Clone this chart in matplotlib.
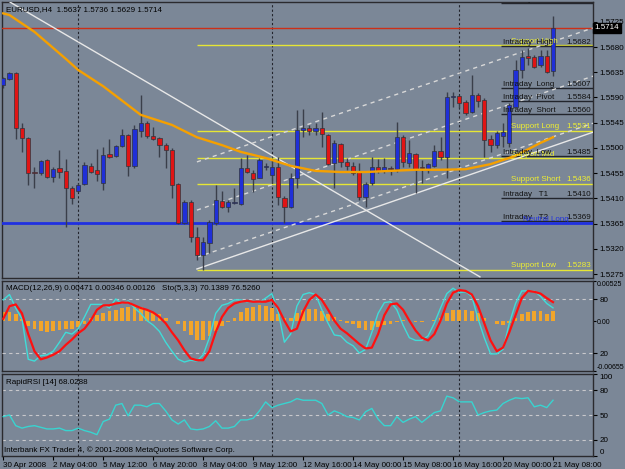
import matplotlib
matplotlib.use("Agg")
import matplotlib.pyplot as plt
import matplotlib.transforms as mtransforms
import numpy as np

# EURUSD H4 candles
opens = [1.5612, 1.5623, 1.5634, 1.5536, 1.5518, 1.5457, 1.5455, 1.5478, 1.5448, 1.5464,
         1.5459, 1.5428, 1.5423, 1.5436, 1.5468, 1.5461, 1.5437, 1.5489, 1.5486, 1.5503,
         1.5523, 1.5468, 1.5530, 1.5544, 1.5521, 1.5518, 1.5505, 1.5496, 1.5436, 1.5366,
         1.5403, 1.5341, 1.5309, 1.5330, 1.5366, 1.5405, 1.5395, 1.5402, 1.5400, 1.5464,
         1.5455, 1.5446, 1.5466, 1.5452, 1.5466, 1.5411, 1.5395, 1.5446, 1.5532, 1.5536,
         1.5530, 1.5536, 1.5523, 1.5473, 1.5507, 1.5475, 1.5468, 1.5457, 1.5412, 1.5437,
         1.5466, 1.5459, 1.5464, 1.5462, 1.5519, 1.5473, 1.5489, 1.5466, 1.5461, 1.5468,
         1.5494, 1.5484, 1.5591, 1.5593, 1.5582, 1.5564, 1.5594, 1.5585, 1.5516, 1.5505,
         1.5521, 1.5509, 1.5573, 1.5639, 1.5664, 1.5662, 1.5648, 1.5664, 1.5637]
highs = [1.5627, 1.5635, 1.5635, 1.5544, 1.5520, 1.5466, 1.5478, 1.5480, 1.5466, 1.5496,
         1.5480, 1.5432, 1.5437, 1.5475, 1.5473, 1.5498, 1.5502, 1.5516, 1.5505, 1.5534,
         1.5525, 1.5541, 1.5594, 1.5548, 1.5537, 1.5519, 1.5509, 1.5500, 1.5437, 1.5407,
         1.5407, 1.5359, 1.5341, 1.5371, 1.5434, 1.5423, 1.5407, 1.5428, 1.5482, 1.5487,
         1.5461, 1.5482, 1.5473, 1.5482, 1.5484, 1.5414, 1.5455, 1.5568, 1.5569, 1.5541,
         1.5544, 1.5564, 1.5525, 1.5514, 1.5509, 1.5482, 1.5475, 1.5473, 1.5439, 1.5484,
         1.5480, 1.5482, 1.5468, 1.5546, 1.5523, 1.5514, 1.5491, 1.5478, 1.5473, 1.5505,
         1.5519, 1.5600, 1.5600, 1.5594, 1.5585, 1.5630, 1.5598, 1.5589, 1.5523, 1.5530,
         1.5544, 1.5580, 1.5657, 1.5675, 1.5678, 1.5666, 1.5675, 1.5675, 1.5736]
lows = [1.5607, 1.5621, 1.5516, 1.5493, 1.5434, 1.5428, 1.5452, 1.5446, 1.5439, 1.5446,
        1.5359, 1.5400, 1.5421, 1.5434, 1.5455, 1.5441, 1.5425, 1.5482, 1.5484, 1.5502,
        1.5450, 1.5464, 1.5519, 1.5518, 1.5514, 1.5484, 1.5464, 1.5411, 1.5364, 1.5364,
        1.5332, 1.5300, 1.5283, 1.5312, 1.5362, 1.5393, 1.5386, 1.5400, 1.5398, 1.5455,
        1.5421, 1.5446, 1.5461, 1.5437, 1.5398, 1.5366, 1.5393, 1.5428, 1.5519, 1.5523,
        1.5523, 1.5502, 1.5470, 1.5428, 1.5466, 1.5461, 1.5452, 1.5407, 1.5395, 1.5434,
        1.5455, 1.5455, 1.5452, 1.5457, 1.5466, 1.5466, 1.5419, 1.5437, 1.5455, 1.5466,
        1.5478, 1.5446, 1.5573, 1.5571, 1.5559, 1.5562, 1.5573, 1.5484, 1.5493, 1.5500,
        1.5502, 1.5502, 1.5573, 1.5625, 1.5648, 1.5643, 1.5644, 1.5634, 1.5629]
closes = [1.5625, 1.5634, 1.5536, 1.5518, 1.5455, 1.5455, 1.5477, 1.5448, 1.5462, 1.5457,
          1.5428, 1.5411, 1.5434, 1.5470, 1.5457, 1.5453, 1.5487, 1.5484, 1.5503, 1.5523,
          1.5468, 1.5534, 1.5544, 1.5521, 1.5516, 1.5505, 1.5496, 1.5434, 1.5366, 1.5403,
          1.5341, 1.5309, 1.5332, 1.5368, 1.5407, 1.5395, 1.5403, 1.5403, 1.5464, 1.5457,
          1.5444, 1.5478, 1.5468, 1.5466, 1.5412, 1.5395, 1.5446, 1.5532, 1.5535, 1.5530,
          1.5536, 1.5525, 1.5471, 1.5509, 1.5475, 1.5468, 1.5455, 1.5412, 1.5436, 1.5466,
          1.5459, 1.5466, 1.5462, 1.5519, 1.5475, 1.5491, 1.5461, 1.5464, 1.5471, 1.5494,
          1.5484, 1.5591, 1.5593, 1.5580, 1.5562, 1.5594, 1.5584, 1.5514, 1.5505, 1.5527,
          1.5528, 1.5577, 1.5639, 1.5662, 1.5660, 1.5644, 1.5664, 1.5635, 1.5714]

# orange moving average, sampled at a few bars
ma_bars = [0, 1, 5, 10, 12, 16, 22, 27, 31, 35, 38, 42, 46, 50, 54, 58, 62, 66, 70, 74, 78, 82, 86, 88]
ma_vals = [1.5740, 1.5737, 1.5707, 1.5659, 1.5639, 1.5610, 1.5559, 1.5541, 1.5519, 1.5505,
           1.5493, 1.5482, 1.5468, 1.5459, 1.5457, 1.5457, 1.5459, 1.5461, 1.5461, 1.5462,
           1.5471, 1.5486, 1.5509, 1.5519]

# MACD histogram (OsMA) and stochastic
macd_hist = [0.00124, 0.00124, 0.00089, 0.00022, -0.00067, -0.00098, -0.00124, -0.00142, -0.00124, -0.00111,
             -0.00098, -0.00098, -0.00080, -0.00036, 0.00044, 0.00080, 0.00107, 0.00133, 0.00151, 0.00169,
             0.00178, 0.00195, 0.00178, 0.00151, 0.00124, 0.00098, 0.00044, 0.00002, -0.00044, -0.00124,
             -0.00178, -0.00244, -0.00244, -0.00200, -0.00133, -0.00067, -0.00010, 0.00044, 0.00124, 0.00169,
             0.00186, 0.00204, 0.00195, 0.00169, 0.00098, 0.00044, 0.00044, 0.00111, 0.00142, 0.00155,
             0.00155, 0.00133, 0.00098, 0.00053, 0.00010, -0.00020, -0.00044, -0.00089, -0.00115, -0.00111,
             -0.00080, -0.00053, -0.00036, -0.00010, 0.00010, 0.00002, -0.00010, -0.00010, 0.00002, 0.00010,
             0.00044, 0.00111, 0.00142, 0.00142, 0.00142, 0.00133, 0.00111, 0.00044, 0.00002, -0.00036,
             -0.00053, -0.00020, 0.00044, 0.00098, 0.00124, 0.00133, 0.00133, 0.00098, 0.00126]
sto_main = [79, 85, 70, 58, 13, 11, 17, 18, 22, 32, 43, 41, 47, 60, 74, 74, 74, 70, 80, 75,
            78, 70, 64, 56, 51, 44, 32, 22, 13, 10, 12, 11, 18, 37, 64, 73, 75, 79, 79, 77,
            78, 76, 81, 86, 66, 32, 41, 72, 85, 87, 85, 68, 53, 40, 39, 32, 28, 20, 24, 43,
            64, 76, 77, 68, 51, 37, 34, 34, 39, 53, 70, 86, 92, 87, 88, 83, 58, 37, 19, 19,
            24, 53, 75, 89, 89, 89, 83, 75, 70.14]
sto_signal = [58, 72, 74, 64, 41, 22, 13, 15, 18, 22, 29, 35, 42, 47, 56, 68, 73, 73, 75, 76,
              76, 73, 70, 68, 65, 60, 53, 43, 34, 23, 14, 12, 12, 22, 43, 60, 70, 75, 77, 78,
              77, 77, 77, 79, 70, 56, 44, 47, 66, 79, 85, 79, 68, 56, 47, 42, 36, 30, 25, 26,
              41, 62, 74, 75, 68, 56, 45, 37, 34, 41, 56, 75, 87, 90, 89, 85, 72, 53, 34, 22,
              26, 43, 62, 81, 89, 88, 86, 81, 76.53]

# RapidRSI(14)
rsi = [48, 50, 37, 34, 36, 37, 35, 33, 33, 34, 31, 31, 34, 31, 29, 26, 42, 45, 62, 64,
       49, 62, 62, 60, 64, 64, 55, 44, 39, 44, 33, 32, 33, 36, 43, 34, 34, 36, 44, 44,
       46, 55, 66, 59, 62, 64, 66, 70, 68, 68, 68, 64, 50, 55, 52, 48, 47, 44, 54, 58,
       45, 37, 37, 48, 41, 45, 48, 41, 47, 53, 55, 73, 71, 66, 66, 66, 50, 53, 55, 56,
       64, 68, 71, 70, 71, 60, 62, 59, 68.03]

# pivot / support levels
level_names = ["Intraday   T1", "Intraday  High", "Intraday  Long", "Intraday  Pivot", "Intraday  Short",
               "Intraday  Low", "Intraday   T1", "Intraday   T2"]
level_prices = [1.5758, 1.5682, 1.5607, 1.5584, 1.5560, 1.5485, 1.5410, 1.5369]
support_names = ["Support High", "Support Long", "Support Mid", "Support Short", "Support Low"]
support_prices = [1.5683, 1.5531, 1.5482, 1.5436, 1.5283]
support_show = [False, True, False, True, True]
trend_long = 1.5366

# trend lines: (bar, price) end points
down_line = [(1.1, 1.5760), (76.3, 1.5270)]
up_line = [(31.0, 1.5284), (94.4, 1.5528)]
channel = [[(31.0, 1.5475), (94.4, 1.5714)],
           [(31.0, 1.5389), (94.4, 1.5628)],
           [(31.0, 1.5305), (94.4, 1.5544)]]

separators = [12, 43, 73]
date_labels = ["30 Apr 2008", "2 May 04:00", "5 May 12:00", "6 May 20:00", "8 May 04:00",
               "9 May 12:00", "12 May 16:00", "14 May 00:00", "15 May 08:00", "16 May 16:00",
               "20 May 00:00", "21 May 08:00"]
price_ticks = [1.5275, 1.5320, 1.5365, 1.5410, 1.5455, 1.5500, 1.5545, 1.5590, 1.5635, 1.5680, 1.5725]

plt.rcParams['font.family'] = ['Liberation Sans', 'DejaVu Sans']
plt.rcParams['font.size'] = 5.8

bg = '#7b8797'
W, H = 625, 469


def box(x0, y0, x1, y1):
    return [x0 / W, 1 - y1 / H, (x1 - x0) / W, (y1 - y0) / H]


fig = plt.figure(figsize=(6.25, 4.69), dpi=100, facecolor=bg)
ax = fig.add_axes(box(2, 2, 593, 278), facecolor=bg)
axm = fig.add_axes(box(2, 281, 593, 371), facecolor=bg, sharex=ax)
axr = fig.add_axes(box(2, 374, 593, 456), facecolor=bg, sharex=ax)

o = np.array(opens)
c = np.array(closes)
bars = np.arange(len(c))
up = c >= o
body_lo = np.minimum(o, c)
body_h = np.maximum(np.abs(c - o), 0.00005)

# ---- main price panel
ax.vlines(bars, lows, highs, color='#3a3f4a', lw=1, zorder=4)
ax.bar(bars, body_h, bottom=body_lo, width=0.68,
       color=np.where(up, '#1f2fd8', '#e01414'), edgecolor='#30343c', lw=0.5, zorder=5)
ax.plot(ma_bars, ma_vals, color='#f5a000', lw=1.7, zorder=6)

ax.axhline(trend_long, color='#2030e0', lw=2, zorder=3)
ax.axhline(closes[-1], color='#cc3018', lw=1, zorder=3)

for p in support_prices:
    ax.hlines(p, 31, 95, color='#e6e635', lw=1, zorder=2)
for name, p in zip(level_names, level_prices):
    ax.hlines(p, 79.6, 95, color='#22252c', lw=1, zorder=2)
for name, p, show in zip(support_names, support_prices, support_show):
    ax.text(81.2, p + 0.00005, name, color='#f0f030', va='bottom', ha='left', zorder=7, clip_on=True)
    if show:
        ax.text(94.1, p + 0.00005, f"{p:.4f}", color='#f0f030', va='bottom', ha='right', zorder=7)
for name, p in zip(level_names, level_prices):
    ax.text(80.0, p + 0.00005, name, color='#111111', va='bottom', ha='left', zorder=8, clip_on=True)
    ax.text(94.1, p + 0.00005, f"{p:.4f}", color='#111111', va='bottom', ha='right', zorder=8, clip_on=True)
ax.text(83.2, trend_long + 0.00005, "Neutral Long", color='#2030e0', va='bottom', ha='left', zorder=9)

(x0, y0), (x1, y1) = down_line
ax.plot([x0, x1], [y0, y1], color='#e8e8e8', lw=1, zorder=3)
(x0, y0), (x1, y1) = up_line
ax.plot([x0, x1], [y0, y1], color='#e8e8e8', lw=1, zorder=3)
for (x0, y0), (x1, y1) in channel:
    ax.plot([x0, x1], [y0, y1], color='#d8d8d8', lw=1, dashes=(3, 3), zorder=3)

ax.text(0.006, 0.985, "EURUSD,H4  1.5637 1.5736 1.5629 1.5714", transform=ax.transAxes,
        va='top', ha='left', color='black')

ax.set_ylim(1.52679, 1.57603)
ax.set_xlim(-0.2, 94.4)
ax.yaxis.tick_right()
ax.set_yticks(price_ticks)
ax.set_yticklabels([f"{p:.4f}" for p in price_ticks])
trans = mtransforms.blended_transform_factory(ax.transAxes, ax.transData)
ax.text(1.003, closes[-1], f"{closes[-1]:.4f}", transform=trans, color='white', va='center', ha='left',
        bbox=dict(facecolor='black', edgecolor='black', pad=1.2), zorder=10)

# ---- MACD + stochastic panel
axm.bar(bars, macd_hist, width=0.6, color='#f2a52a', zorder=2)
axm.set_ylim(-0.00655, 0.00525)
axs = axm.twinx()
axm.yaxis.tick_right()
axm.yaxis.set_label_position('right')
axm.set_yticks([0.00525, 0.0, -0.00655])
axm.set_yticklabels(["0.00525", "0.00", "-0.00655"])
lbl = axm.get_yticklabels()
lbl[0].set_va('top')
lbl[2].set_va('bottom')

axs.set_ylim(0, 100)
axs.plot(bars, sto_main, color='#40dcd8', lw=1, zorder=3)
axs.plot(bars, sto_signal, color='#ff1010', lw=1.6, zorder=4)
for lv in (80, 20):
    axs.axhline(lv, color='#c8c8cc', lw=0.8, dashes=(3, 3), zorder=1)
axs.set_yticks([80, 20])
axs.set_yticklabels(["80", "20"])
axs.text(0.006, 0.95, "MACD(12,26,9) 0.00471 0.00346 0.00126   Sto(5,3,3) 70.1389 76.5260",
         transform=axm.transAxes, va='top', ha='left', color='black', zorder=6)

# ---- RSI panel
axr.plot(bars, rsi, color='#38d4d0', lw=1, zorder=3)
for lv in (80, 50, 20):
    axr.axhline(lv, color='#c8c8cc', lw=0.8, dashes=(3, 3), zorder=1)
axr.set_ylim(0, 100)
axr.yaxis.tick_right()
axr.set_yticks([100, 80, 50, 20, 0])
lbl = axr.get_yticklabels()
lbl[0].set_va('top')
lbl[-1].set_va('bottom')
axr.text(0.006, 0.94, "RapidRSI [14] 68.0288", transform=axr.transAxes, va='top', ha='left', color='black')
axr.text(0.004, 0.03, "Interbank FX Trader 4, \u00a9 2001-2008 MetaQuotes Software Corp.",
         transform=axr.transAxes, va='bottom', ha='left', color='black')

axr.set_xticks(np.arange(0, 8 * len(date_labels), 8))
axr.set_xticklabels(date_labels)
for t in axr.get_xticklabels():
    t.set_ha('left')

for a in (ax, axm, axr):
    for s in a.spines.values():
        s.set_color('#2a2a2e')
        s.set_linewidth(1)
    a.tick_params(axis='both', direction='out', length=3, width=0.8, pad=1.5,
                  colors='black', labelsize=5.8)
    for sx in separators:
        a.axvline(sx, color='#22242c', lw=0.8, dashes=(2, 2), zorder=1)
for s in axs.spines.values():
    s.set_visible(False)
axs.tick_params(axis='y', direction='out', length=3, width=0.8, pad=1.5, colors='black', labelsize=5.8)
axm.tick_params(axis='y', length=2, pad=1, labelsize=5.0)
ax.tick_params(axis='x', labelbottom=False, length=0)
axm.tick_params(axis='x', labelbottom=False, length=0)

fig.savefig("out.png", dpi=100, facecolor=bg)
